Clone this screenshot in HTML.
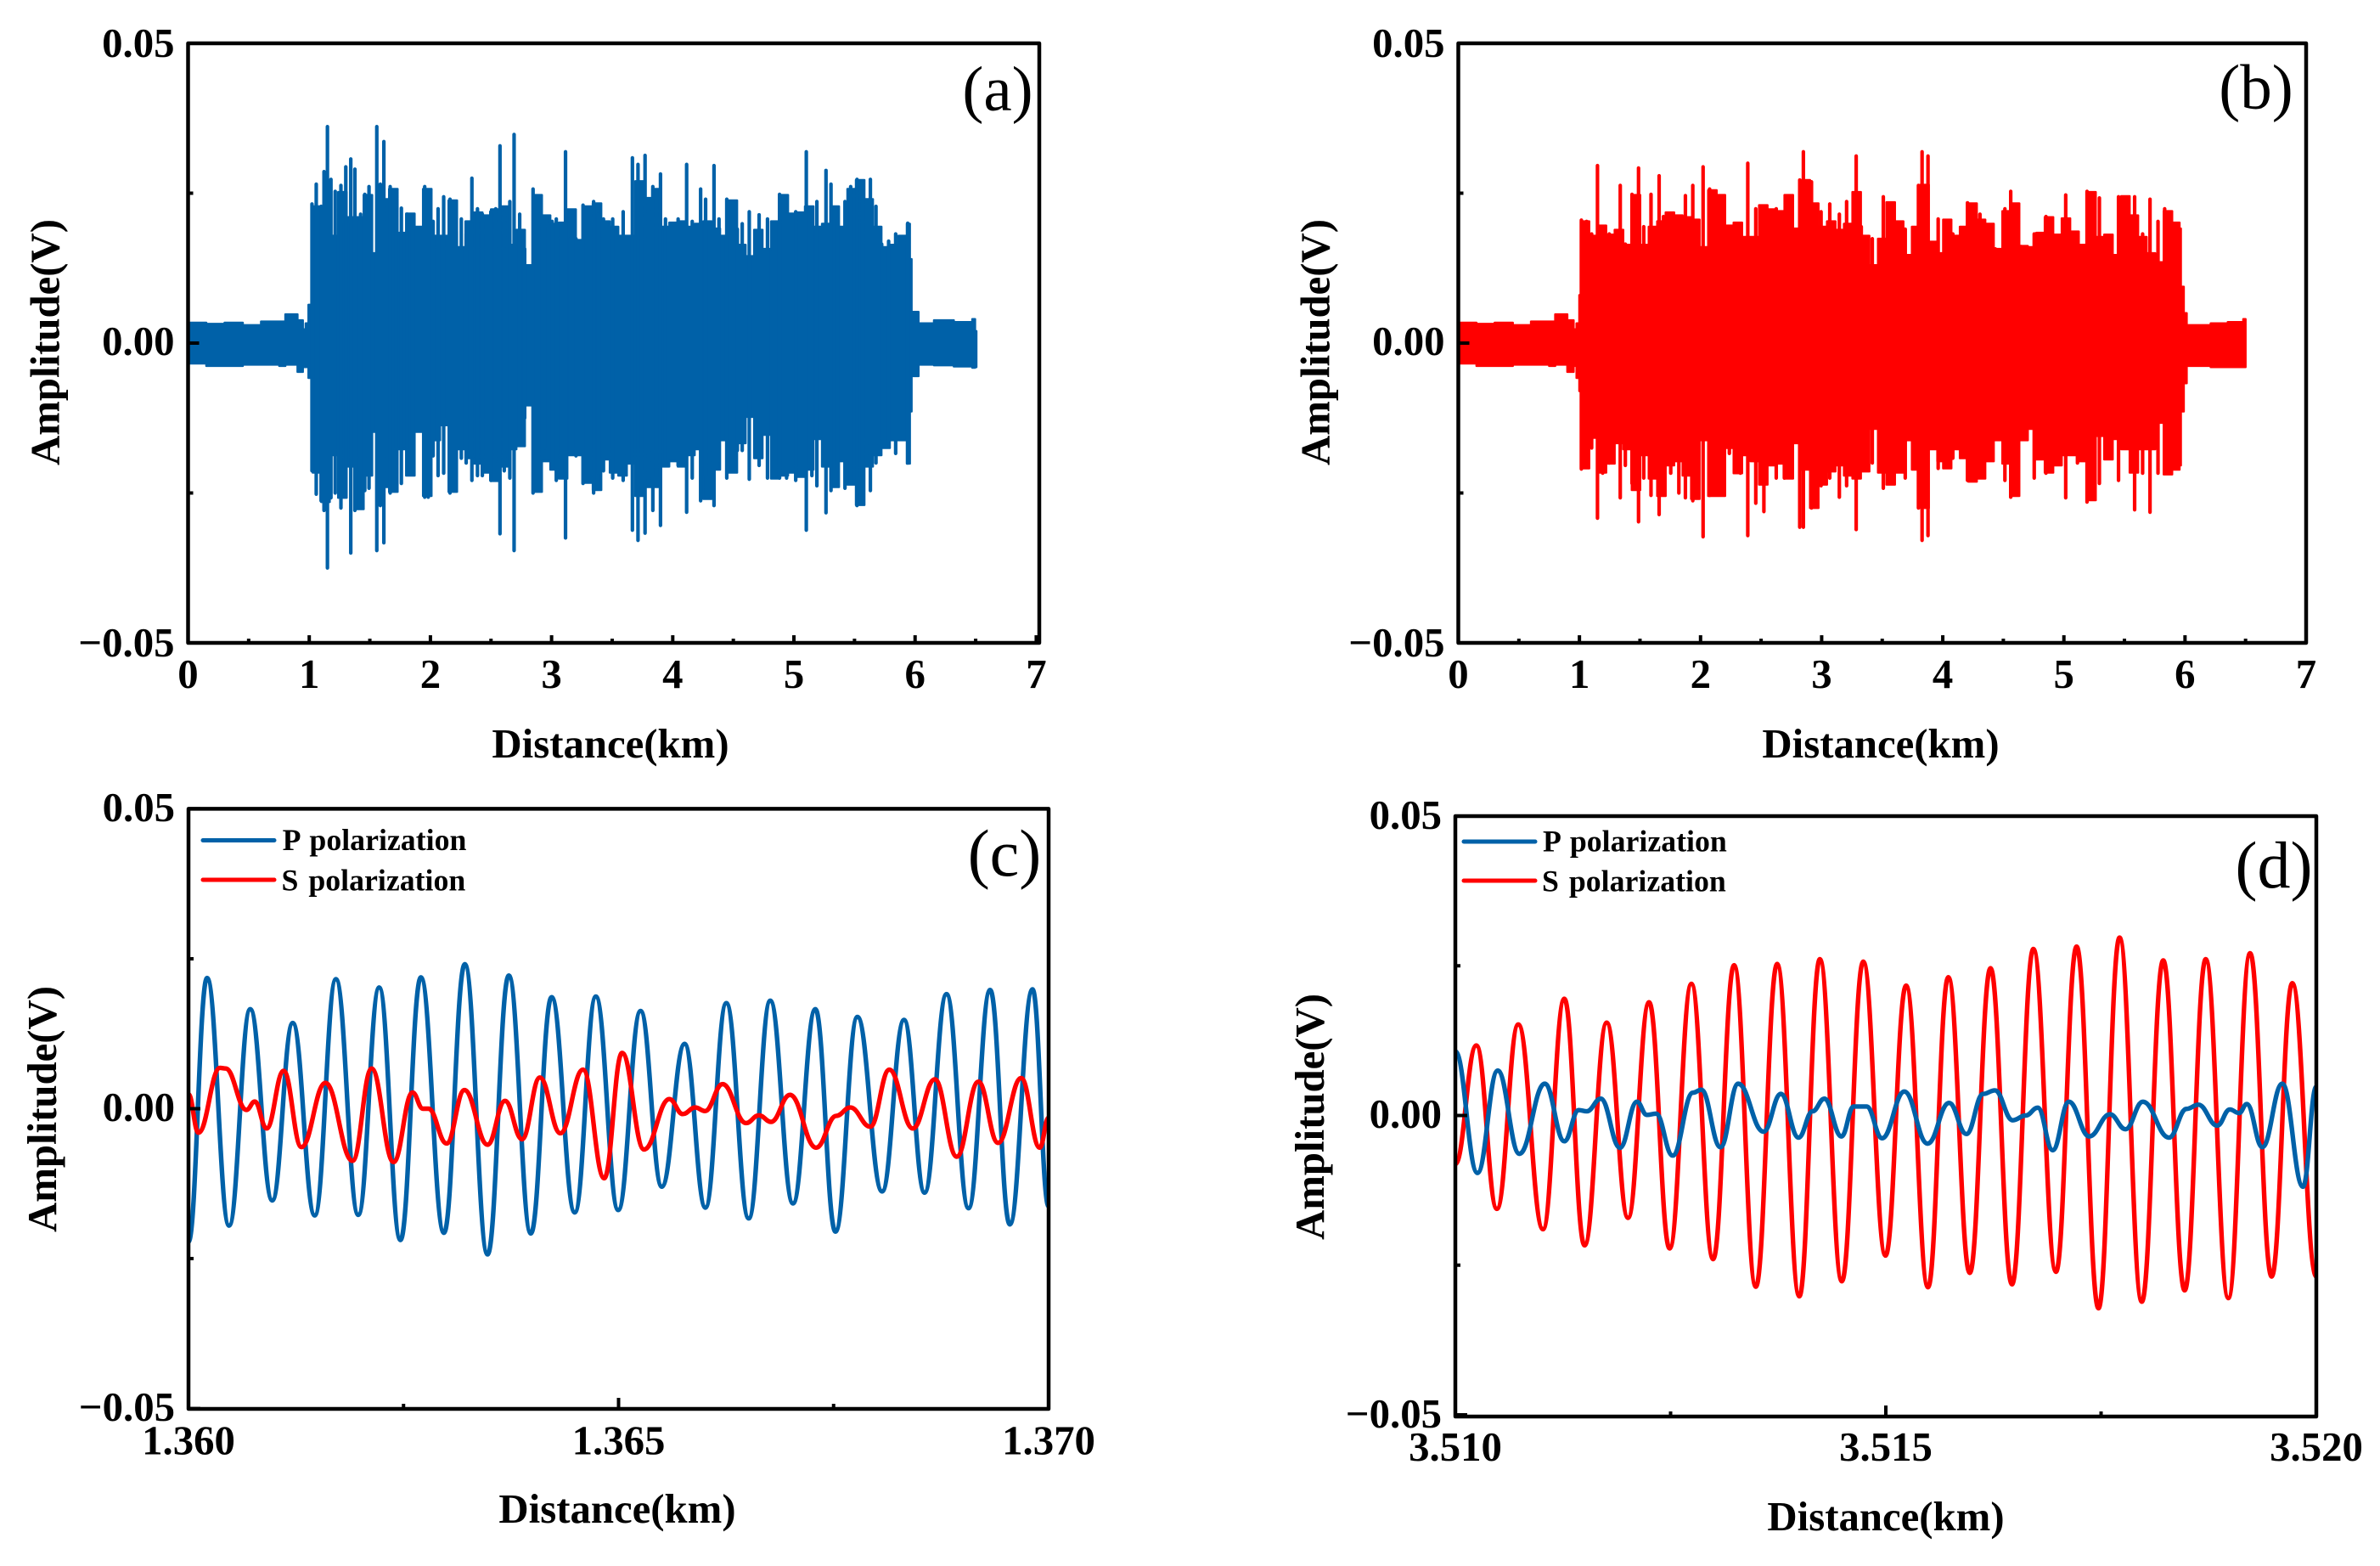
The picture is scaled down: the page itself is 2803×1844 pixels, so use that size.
<!DOCTYPE html>
<html lang="en">
<head>
<meta charset="utf-8">
<title>Amplitude versus distance, four panels</title>
<style>
  html, body { margin: 0; padding: 0; background: #fff; }
  svg { display: block; }
  text { font-family: "Liberation Serif", serif; fill: #000; }
  .bold { font-weight: 700; font-size: 48.8px; }
  .legend { font-weight: 700; font-size: 35.8px; word-spacing: 3px; }
  .tag { font-size: 75px; }
  .tag-large { font-size: 78px; }
</style>
</head>
<body>
<svg id="figure" xmlns="http://www.w3.org/2000/svg" width="2803" height="1844" viewBox="0 0 2803 1844">
  <rect width="2803" height="1844" fill="#fff"/>
  <defs>
    <clipPath id="clip-a"><rect x="221" y="51" width="1003" height="706"/></clipPath>
    <clipPath id="clip-b"><rect x="1717" y="51" width="999" height="706"/></clipPath>
    <clipPath id="clip-c"><rect x="222" y="952" width="1013" height="707"/></clipPath>
    <clipPath id="clip-d"><rect x="1714" y="961" width="1014" height="707"/></clipPath>
  </defs>
  <g id="panel-a"></g>
  <g id="panel-b"></g>
  <g id="panel-c"></g>
  <g id="panel-d"></g>

  <text class="bold" x="719" y="892" text-anchor="middle">Distance(km)</text>
  <text class="bold" x="2215" y="892" text-anchor="middle">Distance(km)</text>
  <text class="bold" x="727" y="1793" text-anchor="middle">Distance(km)</text>
  <text class="bold" x="2221" y="1802" text-anchor="middle">Distance(km)</text>

  <text class="bold" text-anchor="middle" transform="translate(69.5 403) rotate(-90)">Amplitude(V)</text>
  <text class="bold" text-anchor="middle" transform="translate(1565.5 403) rotate(-90)">Amplitude(V)</text>
  <text class="bold" text-anchor="middle" transform="translate(66 1306) rotate(-90)">Amplitude(V)</text>
  <text class="bold" text-anchor="middle" transform="translate(1559 1315) rotate(-90)">Amplitude(V)</text>

  <text class="tag" x="1175" y="130" text-anchor="middle">(a)</text>
  <text class="tag" x="2657" y="128" text-anchor="middle">(b)</text>
  <text class="tag-large" x="1183" y="1031" text-anchor="middle">(c)</text>
  <text class="tag-large" x="2678" y="1045" text-anchor="middle">(d)</text>

  <g>
    <line x1="239" y1="989.5" x2="323" y2="989.5" stroke="#0061a8" stroke-width="5" stroke-linecap="round"/>
    <text class="legend" x="332.6" y="1001">P polarization</text>
    <line x1="239" y1="1036" x2="323" y2="1036" stroke="#ff0000" stroke-width="5" stroke-linecap="round"/>
    <text class="legend" x="331.5" y="1048.5">S polarization</text>
  </g>
  <g>
    <line x1="1724" y1="991" x2="1808" y2="991" stroke="#0061a8" stroke-width="5" stroke-linecap="round"/>
    <text class="legend" x="1817" y="1002.5">P polarization</text>
    <line x1="1724" y1="1037" x2="1808" y2="1037" stroke="#ff0000" stroke-width="5" stroke-linecap="round"/>
    <text class="legend" x="1816" y="1049.5">S polarization</text>
  </g>
</svg>

<script>
// ---------- tick data ----------
const yTickValues = [50, 0, -50];
const yTickLabels = ["0.05", "0.00", "\u22120.05"];
const yMinorValues = [25, -25];
const overviewXTicks = [0, 1, 2, 3, 4, 5, 6, 7];
const overviewXLabels = ["0", "1", "2", "3", "4", "5", "6", "7"];
const overviewXMinor = [0.5, 1.5, 2.5, 3.5, 4.5, 5.5, 6.5];
const detailXTicks = [0, 5, 10];
const detailXLabelsC = ["1.360", "1.365", "1.370"];
const detailXLabelsD = ["3.510", "3.515", "3.520"];
const detailXMinor = [2.5, 7.5];

// ---------- panel (a): distance km, amplitude mV ----------
const bodyDistA = [0,0.15,0.3,0.45,0.6,0.75,0.8,0.9,0.944,0.967,0.99,1.025,1.095,1.165,1.234,1.304,1.374,1.444,1.514,1.583,1.653,1.723,1.793,1.863,1.932,2.002,2.072,2.142,2.212,2.281,2.351,2.421,2.491,2.561,2.630,2.700,2.770,2.840,2.910,2.979,3.049,3.119,3.189,3.259,3.328,3.398,3.468,3.538,3.608,3.677,3.747,3.817,3.887,3.957,4.027,4.096,4.166,4.236,4.306,4.375,4.445,4.515,4.585,4.655,4.724,4.794,4.864,4.934,5.004,5.073,5.143,5.213,5.283,5.353,5.422,5.492,5.562,5.632,5.702,5.771,5.841,5.911,5.936,5.95,6.007,6.134,6.297,6.449,6.472,6.483];
const bodyUpA = [3.4,3.2,3.4,3.0,3.6,3.6,4.8,3.8,2.3,3.3,6.4,22.8,22.8,17.9,25.2,21,21,24.7,15,24,25.7,18.4,21.6,19.4,25.7,17.9,17.9,23.8,16,20.3,21.8,21.3,22.3,22.8,16.4,18.9,13,24.7,21.3,19.9,20.1,22.3,17.2,22.8,23.3,20.3,19.4,17.9,17.9,27,24.2,25.7,19.4,20.1,20.3,19.4,19.9,20.3,19.1,17.9,23.8,16.4,14.5,18.9,15.7,20.3,24.7,21.6,21.8,22.8,19.4,19.9,22.8,19.4,25.7,27.2,24,19.4,16,16.4,17.9,19.9,14,5.2,3.3,3.8,3.5,4,2,0];
const bodyDownA = [-3.4,-3.8,-3.8,-3.6,-3.6,-3.8,-3.6,-4.8,-4,-4,-5.8,-21.6,-26.5,-18.7,-25.8,-20.6,-27.7,-22.1,-14.8,-24,-24.8,-17.7,-22.1,-14.8,-25.5,-16.2,-13.7,-24.8,-17.7,-19.2,-20.1,-21.6,-23,-20.6,-17.7,-17.2,-10.4,-24.8,-19.7,-21.1,-22.6,-18.7,-18.7,-23.3,-24.5,-19.4,-21.6,-22.1,-20.1,-25.5,-24,-24,-20.6,-19.7,-20.6,-18.7,-17.7,-26,-21.1,-16.2,-21.6,-16.7,-12.3,-19.2,-15.3,-22.6,-22.1,-21.6,-22.3,-21.1,-16,-20.6,-24,-19.7,-23.6,-27,-20.6,-18.7,-17.5,-16.2,-16.2,-20.1,-11.4,-5.5,-3.6,-3.7,-3.9,-4.1,-4,0];
const spikeDistA = [1.019,1.054,1.094,1.118,1.146,1.175,1.210,1.257,1.297,1.338,1.372,1.419,1.453,1.488,1.552,1.581,1.610,1.662,1.708,1.754,1.801,1.847,1.946,1.975,2.015,2.056,2.102,2.154,2.206,2.247,2.287,2.334,2.380,2.420,2.490,2.530,2.565,2.600,2.646,2.681,2.727,2.768,2.837,2.884,2.930,2.994,3.028,3.075,3.104,3.144,3.190,3.248,3.335,3.376,3.416,3.492,3.578,3.654,3.700,3.758,3.822,3.885,3.926,4.030,4.100,4.146,4.215,4.256,4.325,4.366,4.430,4.517,4.557,4.615,4.696,4.765,4.864,4.922,4.997,5.084,5.130,5.171,5.246,5.287,5.344,5.402,5.449,5.501,5.547,5.611,5.657,5.704,5.761,5.819,5.918];
const spikeUpA = [23.2,26.5,22.8,28.6,36.1,27.3,25.3,26.3,29.4,30.7,29.0,21.5,24.8,26.1,36.1,26.5,33.6,26.1,20.7,22.5,21.5,19.9,26.1,25.3,20.3,22.4,24.4,24.0,18.6,20.7,18.2,27.5,22.4,21.5,21.9,22.4,32.9,21.9,23.6,34.8,21.5,15.7,25.7,21.5,19.5,20.3,20.7,19.9,31.9,17.4,17.4,23.0,23.6,21.5,20.7,20.7,21.9,30.9,29.8,31.3,26.1,28.2,20.7,20.7,29.8,20.3,25.7,24.0,29.6,20.7,24.0,19.0,19.9,21.9,21.4,20.7,24.8,21.5,21.9,31.9,19.9,23.6,28.8,26.5,20.7,23.6,26.1,27.3,24.4,27.3,22.8,16.5,17.0,18.2,20.0];
const spikeDownA = [-21.3,-25.2,-26.3,-27.9,-37.5,-25.8,-25.0,-27.5,-21.7,-35.0,-27.9,-22.1,-24.6,-24.2,-34.6,-27.1,-33.3,-25.0,-17.5,-23.4,-21.3,-20.9,-25.7,-25.7,-18.8,-22.1,-21.7,-25.0,-17.9,-19.2,-20.0,-22.9,-22.1,-22.1,-22.9,-19.6,-31.8,-21.3,-22.5,-34.6,-15.9,-12.5,-25.0,-20.9,-17.5,-20.9,-22.9,-19.2,-32.5,-18.4,-18.8,-23.4,-25.0,-21.7,-21.3,-22.5,-22.9,-31.2,-32.9,-31.7,-27.9,-30.4,-19.6,-20.4,-28.2,-22.5,-26.3,-22.1,-27.1,-19.6,-22.5,-17.9,-17.9,-22.7,-20.4,-22.5,-22.5,-22.5,-22.9,-31.2,-22.1,-23.8,-28.3,-24.6,-20.9,-24.2,-23.4,-27.1,-23.8,-24.6,-20.0,-15.9,-16.7,-18.4,-20.0];

// ---------- panel (b): distance km, amplitude mV ----------
const bodyDistB = [0,0.15,0.3,0.45,0.6,0.75,0.8,0.9,0.952,0.976,0.999,1.011,1.081,1.151,1.221,1.291,1.362,1.432,1.502,1.572,1.642,1.712,1.782,1.852,1.922,1.992,2.063,2.133,2.203,2.273,2.343,2.413,2.483,2.553,2.623,2.693,2.764,2.834,2.904,2.974,3.044,3.114,3.184,3.254,3.324,3.394,3.465,3.535,3.605,3.675,3.745,3.815,3.885,3.955,4.003,4.071,4.141,4.211,4.281,4.351,4.421,4.492,4.562,4.632,4.702,4.772,4.842,4.912,4.982,5.052,5.123,5.193,5.263,5.333,5.403,5.473,5.543,5.613,5.683,5.754,5.824,5.894,5.955,5.966,5.99,6.014,6.212,6.353,6.481,6.5];
const bodyUpB = [3.4,3.2,3.4,3.0,3.6,3.6,4.8,3.8,2.3,3.3,8,20.3,17.9,19.6,18.1,18.9,16.4,24.7,16.4,19.4,20.3,21.8,21.3,21,20.6,16,25.5,24.7,19.6,20.1,17.7,17.7,23,22.3,22,24.7,19.1,27.2,23.3,19.4,20.3,18.9,19.9,25.2,17.9,13,17.4,23.5,20.3,14.7,19.4,26.4,16.9,15,20.6,17.9,19.4,23.3,20.6,19.9,15.7,22,23.3,16.2,16,18.4,21,18.1,20.8,18.6,16.4,25.2,17.7,18.1,14.7,24.5,21.3,17.7,15,13.5,22,20.1,19.1,9.4,5,3,3.3,3.5,4,0];
const bodyDownB = [-3.4,-3.8,-3.8,-3.6,-3.6,-3.8,-3.6,-4.8,-3.8,-5.8,-8,-20.9,-15.8,-21.6,-20.1,-16.7,-17.7,-24.5,-18.7,-22.6,-25.5,-20.4,-19.7,-22.1,-26,-16.2,-25.5,-25.5,-17.5,-21.7,-18.7,-19.7,-23.6,-20.4,-20.1,-22.6,-16.7,-21.1,-27.5,-23.6,-21.4,-20.4,-22.1,-22.6,-21.4,-14.3,-21.6,-23.6,-21.6,-16.2,-21.1,-27.5,-17.7,-19.7,-20.9,-17.7,-19.2,-23.1,-22.6,-19.7,-16.2,-20.1,-25.5,-16.2,-14.3,-19.4,-21.6,-20.4,-18.7,-18.7,-19.7,-26.2,-15.5,-19.4,-16,-17.7,-21.6,-17.7,-17.7,-13.3,-21.9,-21.1,-20.4,-11.4,-6.7,-3.8,-4,-4,-4,0];
const spikeDistB = [1.016,1.059,1.101,1.149,1.192,1.246,1.283,1.337,1.379,1.434,1.488,1.531,1.591,1.658,1.694,1.754,1.821,1.875,1.936,2.021,2.075,2.117,2.178,2.238,2.329,2.390,2.456,2.523,2.625,2.692,2.819,2.849,2.916,2.995,3.067,3.146,3.206,3.285,3.327,3.418,3.509,3.593,3.690,3.799,3.829,3.878,3.962,4.083,4.204,4.307,4.374,4.434,4.513,4.561,4.646,4.755,4.852,5.015,5.112,5.191,5.293,5.372,5.451,5.584,5.650,5.711,5.777,5.832,5.868,5.947];
const spikeUpB = [20.5,20.3,18.2,29.6,18.2,18.2,16.5,26.3,16.5,24.8,29.2,19.4,24.8,27.9,21.1,21.5,20.3,24.6,26.3,29.4,25.7,24.8,20.3,17.8,17.4,30.0,22.4,22.4,22.4,19.4,27.2,31.9,26.9,21.9,23.2,21.5,23.6,31.2,19.4,17.4,24.4,20.3,19.0,26.3,31.9,31.2,20.7,18.2,23.4,21.5,19.0,15.7,22.4,25.3,16.1,18.2,21.1,24.7,18.2,25.3,24.2,15.7,24.4,24.4,18.2,24.0,20.3,22.4,20.3,19.2];
const spikeDownB = [-21.0,-19.6,-17.5,-29.2,-21.7,-20.0,-17.9,-25.8,-20.4,-23.4,-29.8,-22.5,-25.4,-28.6,-22.1,-21.7,-25.0,-25.8,-26.3,-32.3,-25.4,-25.0,-22.5,-18.4,-21.7,-32.1,-26.7,-28.1,-22.5,-22.5,-30.7,-30.7,-27.5,-23.8,-22.5,-25.7,-23.8,-31.1,-19.2,-20.0,-24.2,-21.7,-22.5,-27.5,-32.9,-32.1,-20.9,-19.2,-22.9,-21.7,-19.2,-15.0,-22.9,-25.7,-15.9,-22.5,-21.7,-25.8,-20.0,-26.5,-23.4,-15.9,-22.9,-27.8,-21.7,-28.2,-21.7,-21.7,-18.4,-20.7];

// ---------- panel (c): metres past 1.360 km, amplitude mV ----------
const distPC = [0,0.216,0.472,0.718,0.974,1.212,1.468,1.714,1.974,2.217,2.464,2.702,2.970,3.213,3.477,3.724,3.980,4.222,4.491,4.736,4.996,5.256,5.503,5.768,6.010,6.253,6.513,6.764,7.028,7.288,7.522,7.777,8.064,8.319,8.558,8.813,9.069,9.320,9.549,9.813,10];
const ampPC = [-22.2,21.8,-19.5,16.6,-15.3,14.3,-17.8,21.6,-17.7,20.2,-21.9,21.9,-20.7,24.1,-24.3,22.2,-20.8,18.6,-17.3,18.7,-16.9,16.3,-13.0,10.8,-16.5,17.6,-18.3,18.0,-15.8,16.6,-20.5,15.3,-13.8,14.8,-14.0,19.1,-16.6,19.8,-19.3,19.9,-16.3];
const distSC = [0,0.115,0.366,0.432,0.674,0.771,0.908,1.106,1.313,1.591,1.908,2.129,2.384,2.605,2.724,2.790,3.001,3.208,3.477,3.680,3.878,4.085,4.323,4.587,4.833,5.041,5.296,5.591,5.746,5.891,6.006,6.209,6.482,6.632,6.773,6.993,7.297,7.531,7.694,7.927,8.148,8.421,8.677,8.932,9.183,9.412,9.681,9.897,10];
const ampSC = [2.4,-4.0,6.8,6.7,-0.2,1.2,-3.3,6.3,-6.4,4.3,-8.7,6.7,-8.9,2.7,0,0,-5.8,3.1,-6.0,1.3,-5.1,5.2,-4.1,6.5,-11.6,9.3,-6.8,1.6,-0.9,0.2,-0.4,4.1,-2.4,-1.1,-2.2,2.3,-6.5,-1.2,0.2,-3.0,6.5,-3.3,4.9,-8.0,4.5,-5.7,5.1,-6.5,-1.5];

// ---------- panel (d): metres past 3.510 km, amplitude mV ----------
const distSD = [0,0.244,0.483,0.731,1.018,1.266,1.501,1.758,2.006,2.250,2.489,2.742,2.994,3.238,3.490,3.738,3.995,4.234,4.489,4.738,4.996,5.236,5.490,5.726,5.975,6.216,6.465,6.714,6.976,7.216,7.470,7.715,7.973,8.222,8.471,8.716,8.978,9.231,9.481,9.721,10];
const ampSD = [-8.1,11.7,-15.6,15.2,-19.0,19.5,-21.7,15.5,-17.1,18.9,-22.2,22.0,-24.0,25.1,-28.6,25.3,-30.2,26.1,-27.7,25.7,-23.4,21.7,-28.7,23.1,-26.3,24.6,-28.2,27.8,-26.1,28.2,-32.2,29.7,-31.1,25.9,-29.2,26.1,-30.5,27.1,-26.9,22.1,-26.9];
const distPD = [0,0.257,0.492,0.744,1.039,1.266,1.433,1.527,1.689,1.912,2.109,2.224,2.331,2.524,2.759,2.857,3.080,3.285,3.580,3.781,3.986,4.149,4.286,4.485,4.626,4.777,4.957,5.215,5.485,5.735,5.936,6.130,6.267,6.473,6.624,6.765,6.938,7.126,7.363,7.603,7.784,7.985,8.290,8.492,8.630,8.849,8.995,9.103,9.193,9.373,9.605,9.845,10];
const ampPD = [10.7,-9.6,7.5,-6.4,5.3,-4.3,0.9,0.7,2.8,-5.4,2.3,0.1,0.3,-6.7,3.8,4.3,-5.3,5.3,-2.7,3.6,-3.7,0.7,2.8,-3.5,1.5,1.5,-3.8,4.0,-4.7,2.1,-3.1,3.6,4.2,-0.8,0,1.3,-5.8,2.3,-3.5,0.2,-2.3,2.3,-3.7,1.1,1.8,-1.7,1.0,0.4,1.9,-5.3,5.3,-11.9,4.8];

// ---------- drawing ----------
const NS = "http://www.w3.org/2000/svg";
const BLUE = "#0061a8";
const RED = "#ff0000";

function makeAxes(box, xMin, xMax) {
  return {
    box: box,
    x: function (v) { return box.left + (v - xMin) / (xMax - xMin) * (box.right - box.left); },
    y: function (v) { return box.zero - v / 50 * (box.zero - box.top); }
  };
}

function addPath(parent, d, stroke, width, fill, name, clip, cap) {
  const el = document.createElementNS(NS, "path");
  el.setAttribute("d", d);
  el.setAttribute("stroke", stroke);
  el.setAttribute("stroke-width", width);
  el.setAttribute("fill", fill);
  el.setAttribute("stroke-linejoin", "round");
  if (cap) el.setAttribute("stroke-linecap", cap);
  if (clip) el.setAttribute("clip-path", "url(#" + clip + ")");
  
  
  parent.appendChild(el);
  return el;
}

function addLabel(parent, str, x, y, anchor, name) {
  const el = document.createElementNS(NS, "text");
  el.textContent = str;
  el.setAttribute("x", x);
  el.setAttribute("y", y);
  el.setAttribute("text-anchor", anchor);
  el.setAttribute("class", "bold");
  
  
  parent.appendChild(el);
}

function drawFrame(parent, ax, xTicks, xLabels, xMinor, cfg) {
  const b = ax.box;
  let ticks = "";
  yTickValues.forEach(function (v) {
    ticks += "M" + b.left + " " + ax.y(v) + "h" + cfg.yMajor;
  });
  yMinorValues.forEach(function (v) {
    ticks += "M" + b.left + " " + ax.y(v) + "h" + cfg.yMinor;
  });
  xTicks.forEach(function (v) {
    ticks += "M" + ax.x(v) + " " + b.bottom + "v" + (-cfg.xMajor);
  });
  xMinor.forEach(function (v) {
    ticks += "M" + ax.x(v) + " " + b.bottom + "v" + (-cfg.xMinor);
  });
  addPath(parent, ticks, "#000", 4, "none", "axis-ticks");
  const frame = "M" + b.left + " " + b.top + "H" + b.right + "V" + b.bottom + "H" + b.left + "Z";
  addPath(parent, frame, "#000", 4.5, "none", "axis-frame");
  yTickValues.forEach(function (v, i) {
    addLabel(parent, yTickLabels[i], b.left - 16, cfg.yLabelY[i], "end", "y-tick-label");
  });
  xTicks.forEach(function (v, i) {
    addLabel(parent, xLabels[i], ax.x(v), cfg.xLabelY, "middle", "x-tick-label");
  });
}

function drawOverview(parent, ax, dist, up, down, spikeX, spikeU, spikeD, color, clip, series) {
  const n = dist.length;
  let d = "M" + ax.x(dist[0]) + " " + ax.y(up[0]);
  for (let i = 1; i < n; i++) {
    d += "H" + ax.x(dist[i]);
    if (i < n - 1) d += "V" + ax.y(up[i]);
  }
  d += "V" + ax.y(down[n - 2]);
  for (let i = n - 2; i >= 0; i--) {
    d += "H" + ax.x(dist[i]);
    if (i > 0) d += "V" + ax.y(down[i - 1]);
  }
  addPath(parent, d + "Z", color, 2.5, color, series + "-body", clip);
  let s = "";
  spikeX.forEach(function (v, i) {
    s += "M" + ax.x(v) + " " + ax.y(spikeU[i]) + "V" + ax.y(spikeD[i]);
  });
  addPath(parent, s, color, 4.2, "none", series + "-spikes", clip, "round");
}

function drawWave(parent, ax, dist, amp, color, clip, name) {
  let d = "M" + ax.x(dist[0]) + " " + ax.y(amp[0]);
  for (let i = 1; i < dist.length; i++) {
    const x0 = ax.x(dist[i - 1]);
    const x1 = ax.x(dist[i]);
    const dx = (x1 - x0) * 0.42;
    d += "C" + (x0 + dx) + " " + ax.y(amp[i - 1]) + " " + (x1 - dx) + " " + ax.y(amp[i]) + " " + x1 + " " + ax.y(amp[i]);
  }
  addPath(parent, d, color, 5.4, "none", name, clip);
}

const overviewTicks = { yMajor: 13, yMinor: 6, xMajor: 9, xMinor: 5 };
const detailTicks = { yMajor: 14, yMinor: 6, xMajor: 13, xMinor: 6 };

// panel a
(function () {
  const g = document.getElementById("panel-a");
  const box = { left: 221.5, right: 1224, top: 51, bottom: 757, zero: 404 };
  const ax = makeAxes(box, 0, 7);
  const tickAx = makeAxes(box, 0, 7.025);
  drawOverview(g, ax, bodyDistA, bodyUpA, bodyDownA, spikeDistA, spikeUpA, spikeDownA, BLUE, "clip-a", "p-signal-a");
  drawFrame(g, tickAx, overviewXTicks, overviewXLabels, overviewXMinor, Object.assign({ yLabelY: [67, 418, 773], xLabelY: 810 }, overviewTicks));
})();

// panel b
(function () {
  const g = document.getElementById("panel-b");
  const ax = makeAxes({ left: 1717.5, right: 2716, top: 51, bottom: 757, zero: 404 }, 0, 7);
  drawOverview(g, ax, bodyDistB, bodyUpB, bodyDownB, spikeDistB, spikeUpB, spikeDownB, RED, "clip-b", "s-signal-b");
  drawFrame(g, ax, overviewXTicks, overviewXLabels, overviewXMinor, Object.assign({ yLabelY: [67, 418, 773], xLabelY: 810 }, overviewTicks));
})();

// panel c
(function () {
  const g = document.getElementById("panel-c");
  const ax = makeAxes({ left: 222, right: 1235, top: 952.4, bottom: 1659, zero: 1305.5 }, 0, 10);
  drawWave(g, ax, distPC, ampPC, BLUE, "clip-c", "p-polarization-line-c");
  drawWave(g, ax, distSC, ampSC, RED, "clip-c", "s-polarization-line-c");
  drawFrame(g, ax, detailXTicks, detailXLabelsC, detailXMinor, Object.assign({ yLabelY: [967, 1320, 1673], xLabelY: 1712.5 }, detailTicks));
})();

// panel d
(function () {
  const g = document.getElementById("panel-d");
  const ax = makeAxes({ left: 1714, right: 2728, top: 961, bottom: 1668, zero: 1313.5 }, 0, 10);
  drawWave(g, ax, distSD, ampSD, RED, "clip-d", "s-polarization-line-d");
  drawWave(g, ax, distPD, ampPD, BLUE, "clip-d", "p-polarization-line-d");
  drawFrame(g, ax, detailXTicks, detailXLabelsD, detailXMinor, Object.assign({ yLabelY: [976, 1328, 1681], xLabelY: 1720 }, detailTicks));
})();
</script>
</body>
</html>
